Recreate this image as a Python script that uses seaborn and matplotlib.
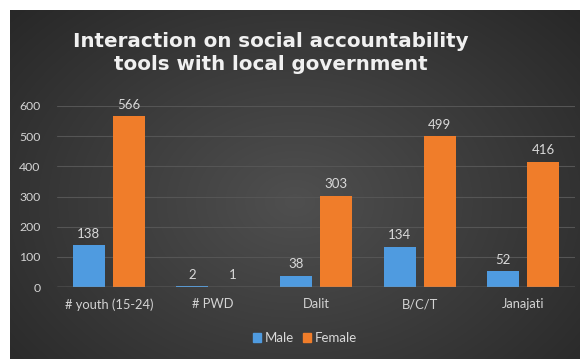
import numpy as np
import pandas as pd
import matplotlib
matplotlib.use("Agg")
import matplotlib.pyplot as plt
import seaborn as sns

categories = ["# youth (15-24)", "# PWD", "Dalit", "B/C/T", "Janajati"]
male = [138, 2, 38, 134, 52]
female = [566, 1, 303, 499, 416]
series = ["Male", "Female"]
y_ticks = [0, 100, 200, 300, 400, 500, 600]
title = "Interaction on social accountability\ntools with local government"

colors = {"Male": "#4f9be0", "Female": "#f07d2a"}

df = pd.DataFrame({
    "Category": categories * 2,
    "Sex": ["Male"] * len(categories) + ["Female"] * len(categories),
    "Count": male + female,
})

sns.set_theme(style="white")
plt.rcParams["font.family"] = ["Lato", "DejaVu Sans"]

W, H = 580, 359
fig = plt.figure(figsize=(W / 100, H / 100), dpi=100)
fig.patch.set_facecolor("white")

# dark panel with a soft radial gradient
bg = fig.add_axes([10 / W, 0, 570 / W, 349 / H])
bg.set_axis_off()
yy, xx = np.mgrid[0:1:300j, 0:1:500j]
r = np.sqrt(((xx - 0.5) / 0.75) ** 2 + ((yy - 0.55) / 0.9) ** 2)
shade = np.clip(0.31 - 0.17 * r, 0.14, 0.31)
bg.imshow(np.dstack([shade] * 3), aspect="auto", extent=[0, 1, 0, 1],
          interpolation="bilinear")
bg.set_xlim(0, 1)
bg.set_ylim(0, 1)

y0, y600 = 287, 106
ax = fig.add_axes([57 / W, (H - y0) / H, (575 - 57) / W, (y0 - y600) / H])
ax.set_facecolor("none")

sns.barplot(data=df, x="Category", y="Count", hue="Sex", hue_order=series,
            palette=colors, width=0.772, gap=0.2, saturation=1,
            linewidth=0, legend=False, ax=ax, zorder=3)

ax.set_ylim(0, 600)
ax.set_xlim(-0.5, len(categories) - 0.5)
ax.set_yticks(y_ticks)
ax.set_yticklabels([str(t) for t in y_ticks])
for t in y_ticks[1:]:
    ax.axhline(t, color="#555555", lw=0.8, zorder=1)
ax.axhline(0, color="#8c8c8c", lw=1.0, zorder=4)
for s in ax.spines.values():
    s.set_visible(False)
ax.tick_params(axis="both", length=0, colors="#d4d4d4")
ax.tick_params(axis="x", pad=8, labelsize=9.3)
ax.tick_params(axis="y", pad=12, labelsize=8.8)
ax.set_xlabel("")
ax.set_ylabel("")

for cont in ax.containers:
    ax.bar_label(cont, fmt="%d", padding=4, color="#d9d9d9", fontsize=9.5)

fig.text(271 / W, 1 - 53 / H, title, ha="center", va="center",
         color="#f0f0f0", fontsize=14.3, fontweight="bold",
         family=["DejaVu Sans"], linespacing=1.3)

handles = [plt.Rectangle((0, 0), 1, 1, color=colors[s]) for s in series]
fig.legend(handles, series, loc="center", bbox_to_anchor=(305 / W, 1 - 338 / H),
           ncol=2, frameon=False, fontsize=9.5, labelcolor="#d9d9d9",
           handlelength=0.6, handleheight=0.6, handletextpad=0.25,
           columnspacing=0.7)

fig.savefig("out.png", dpi=100)
